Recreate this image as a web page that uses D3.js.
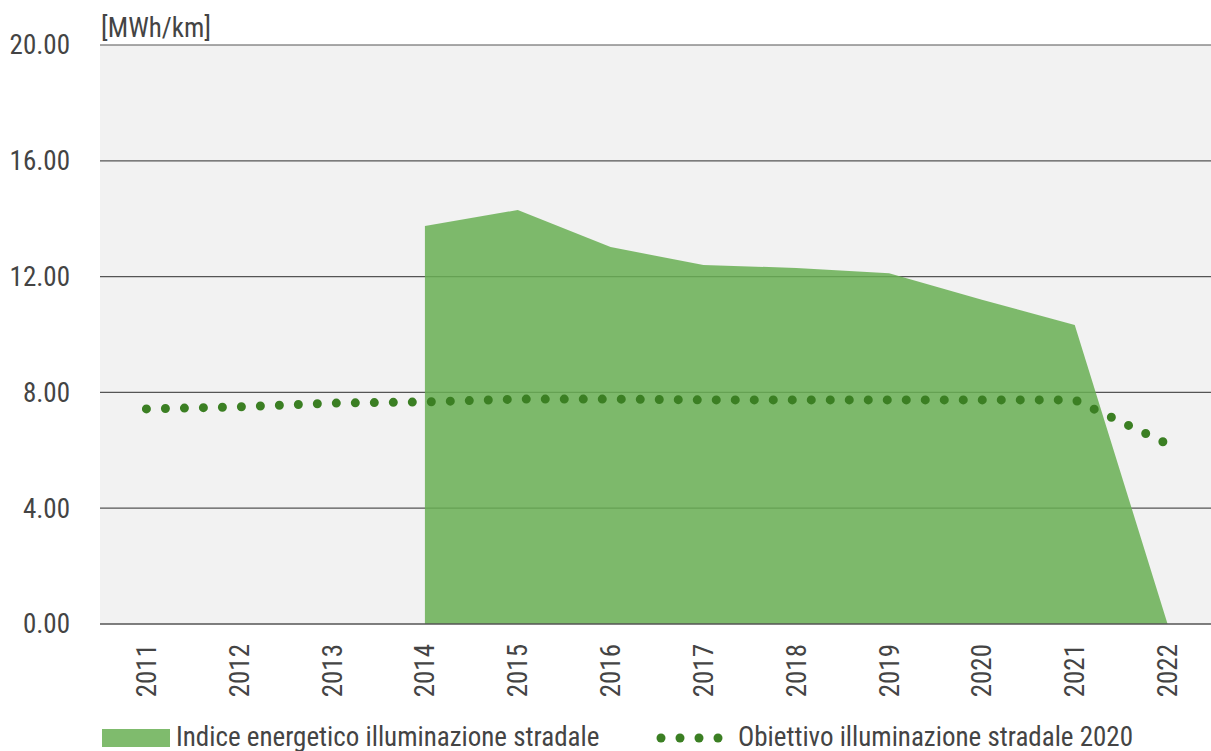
<!DOCTYPE html>
<html>
<head>
<meta charset="utf-8">
<script src="https://cdn.jsdelivr.net/npm/d3@7"></script>
<style>
  body { margin: 0; background: #fff; }
  text { font-family: "Roboto Condensed", "Liberation Sans Narrow", "DejaVu Sans Condensed", sans-serif; fill: #444; }
</style>
</head>
<body>
<div id="chart"></div>
<script>
// chart values
var years = ["2011", "2012", "2013", "2014", "2015", "2016", "2017", "2018", "2019", "2020", "2021", "2022"];
var indiceYears = ["2014", "2015", "2016", "2017", "2018", "2019", "2020", "2021", "2022"];
var indiceValues = [13.75, 14.3, 13.02, 12.4, 12.3, 12.12, 11.2, 10.33, 0];
var obiettivoValues = [7.43, 7.5, 7.63, 7.67, 7.77, 7.77, 7.74, 7.74, 7.74, 7.74, 7.74, 6.22];
var yTicks = [0, 4, 8, 12, 16, 20];
var legendLabels = ["Indice energetico illuminazione stradale", "Obiettivo illuminazione stradale 2020"];

var svgWidth = 1211, svgHeight = 751;
var plotLeft = 100, plotRight = 1211, plotTop = 45, plotBottom = 624;
var fontSize = "27px";

var svg = d3.select("#chart").append("svg").attr("width", svgWidth).attr("height", svgHeight);

var x = d3.scaleBand().domain(years).range([plotLeft, plotRight + 3]);
var y = d3.scaleLinear().domain([0, 20]).range([plotBottom, plotTop]);
function cx(d) { return x(d) + x.bandwidth() / 2; }

// plot background
svg.append("rect").attr("x", plotLeft).attr("y", plotTop)
    .attr("width", plotRight - plotLeft).attr("height", plotBottom - plotTop).attr("fill", "#f2f2f2");

// grid lines
svg.append("g").selectAll("line").data(yTicks.filter(function (d) { return d > 0; })).enter()
    .append("line")
    .attr("x1", plotLeft).attr("x2", plotRight)
    .attr("y1", function (d) { return y(d); }).attr("y2", function (d) { return y(d); })
    .attr("stroke", "#555").attr("stroke-width", 1.2);

// area
var area = d3.area()
    .x(function (d) { return cx(d.year); })
    .y0(y(0))
    .y1(function (d) { return y(d.value); });
var areaData = indiceYears.map(function (d, i) { return { year: d, value: indiceValues[i] }; });
svg.append("path").datum(areaData).attr("d", area)
    .attr("fill", "#68af53").attr("fill-opacity", 0.85);

// baseline axis
svg.append("line").attr("x1", plotLeft).attr("x2", plotRight).attr("y1", y(0)).attr("y2", y(0))
    .attr("stroke", "#555").attr("stroke-width", 1.5);

// dotted target line
var line = d3.line()
    .x(function (d) { return cx(d.year); })
    .y(function (d) { return y(d.value); });
var lineData = years.map(function (d, i) { return { year: d, value: obiettivoValues[i] }; });
svg.append("path").datum(lineData).attr("d", line)
    .attr("fill", "none").attr("stroke", "#3b7f23").attr("stroke-width", 9)
    .attr("stroke-linecap", "round").attr("stroke-dasharray", "0,19");

// y labels
svg.append("g").selectAll("text").data(yTicks).enter().append("text")
    .attr("x", 70).attr("y", function (d) { return y(d); }).attr("dy", "0.35em")
    .attr("text-anchor", "end").style("font-size", fontSize)
    .text(function (d) { return d3.format(".2f")(d); });

svg.append("text").attr("x", 101).attr("y", 37).style("font-size", fontSize).text("[MWh/km]");

// x labels
svg.append("g").selectAll("text").data(years).enter().append("text")
    .attr("transform", function (d) { return "translate(" + cx(d) + ",644) rotate(-90)"; })
    .attr("dy", "0.35em").attr("text-anchor", "end").style("font-size", fontSize)
    .text(function (d) { return d; });

// legend
svg.append("rect").attr("x", 102).attr("y", 729).attr("width", 68).attr("height", 18)
    .attr("fill", "#68af53").attr("fill-opacity", 0.85);
svg.append("text").attr("x", 176).attr("y", 746).style("font-size", fontSize).text(legendLabels[0]);

svg.append("g").selectAll("circle").data([0, 1, 2, 3]).enter().append("circle")
    .attr("cx", function (d) { return 661 + d * 19; }).attr("cy", 738).attr("r", 4.5)
    .attr("fill", "#3b7f23");
svg.append("text").attr("x", 738).attr("y", 746).style("font-size", fontSize).text(legendLabels[1]);
</script>
</body>
</html>
